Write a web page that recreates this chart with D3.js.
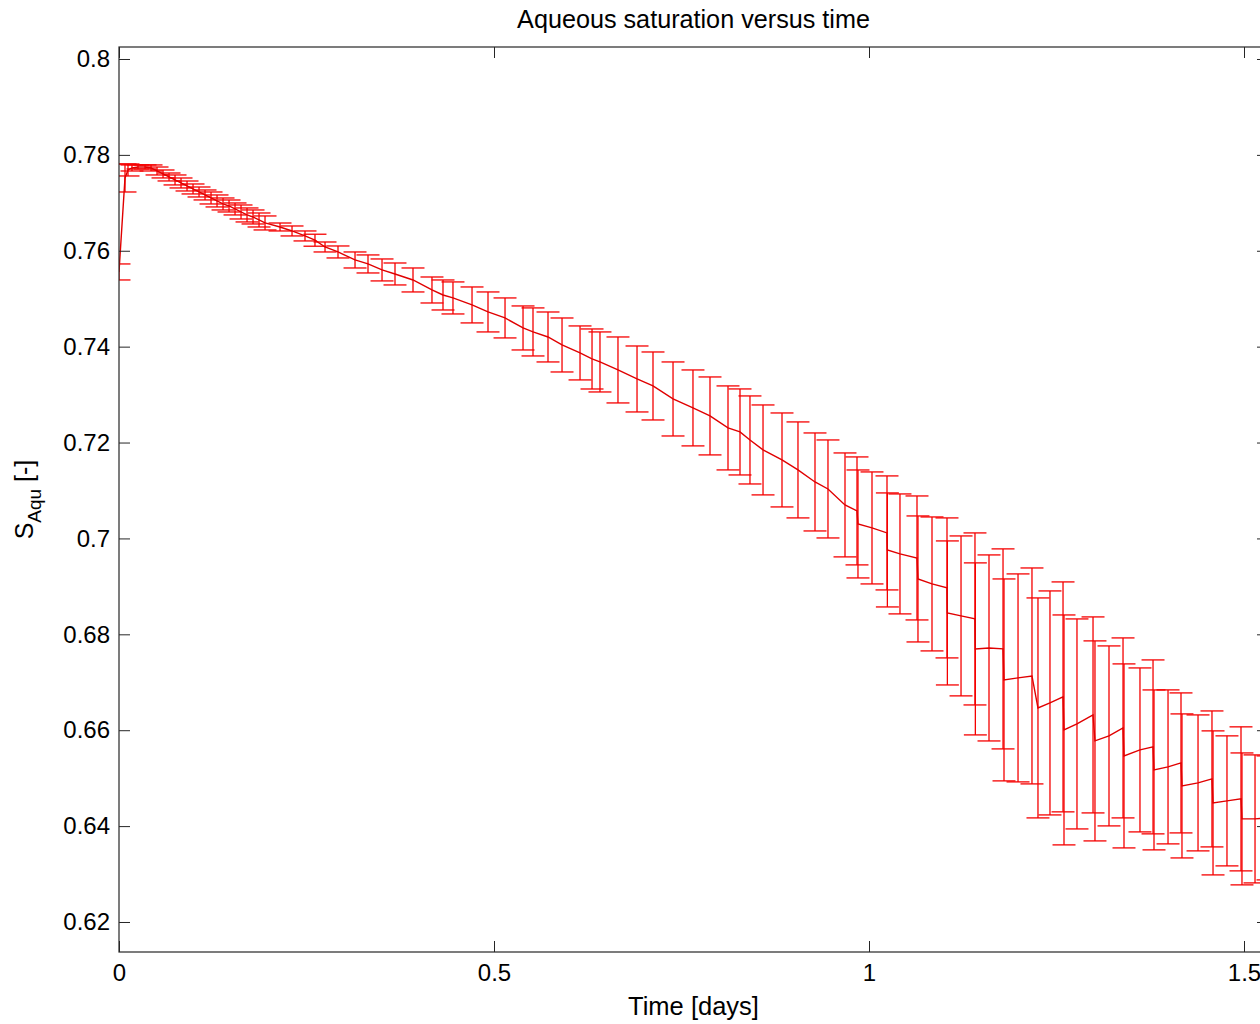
<!DOCTYPE html>
<html><head><meta charset="utf-8">
<script src="https://cdn.jsdelivr.net/npm/d3@7"></script>
<style>body{margin:0;background:#fff}</style>
</head><body>
<svg id="chart" width="1260" height="1024"></svg>
<script>
// ---- data ----
const timeDays = [
  0.0000, 0.0080, 0.0120, 0.0173, 0.0253, 0.0347, 0.0427, 0.0507, 0.0587, 0.0667, 0.0747, 0.0827, 0.0907,
  0.0987, 0.1067, 0.1147, 0.1227, 0.1307, 0.1387, 0.1467, 0.1547, 0.1627, 0.1707, 0.1787, 0.1867, 0.1947,
  0.2147, 0.2307, 0.2480, 0.2613, 0.2747, 0.2920, 0.3147, 0.3320, 0.3507, 0.3680, 0.3920, 0.4173, 0.4320,
  0.4453, 0.4707, 0.4920, 0.5147, 0.5387, 0.5520, 0.5720, 0.5907, 0.6147, 0.6307, 0.6413, 0.6653, 0.6907,
  0.7120, 0.7387, 0.7653, 0.7880, 0.8120, 0.8280, 0.8413, 0.8587, 0.8840, 0.9053, 0.9280, 0.9453, 0.9680,
  0.9840, 0.9853, 1.0040, 1.0240, 1.0245, 1.0413, 1.0640, 1.0653, 1.0840, 1.1040, 1.1045, 1.1227, 1.1413,
  1.1418, 1.1600, 1.1787, 1.1800, 1.1987, 1.2173, 1.2253, 1.2413, 1.2587, 1.2600, 1.2773, 1.2987, 1.3013,
  1.3200, 1.3387, 1.3400, 1.3613, 1.3787, 1.3800, 1.3987, 1.4160, 1.4173, 1.4387, 1.4573, 1.4587, 1.4773,
  1.4960, 1.4973, 1.5147, 1.5320
];
const saturation = [
  0.75558, 0.77518, 0.77685, 0.77727, 0.77748, 0.77748, 0.77727, 0.77664, 0.77602, 0.77539, 0.77477, 0.77414, 0.77351,
  0.77289, 0.77226, 0.77164, 0.77101, 0.77039, 0.76976, 0.76934, 0.76872, 0.76809, 0.76747, 0.76705, 0.76642, 0.76580,
  0.76496, 0.76413, 0.76309, 0.76220, 0.76079, 0.75975, 0.75808, 0.75725, 0.75600, 0.75516, 0.75391, 0.75182, 0.75078,
  0.75016, 0.74870, 0.74724, 0.74599, 0.74390, 0.74307, 0.74202, 0.74035, 0.73869, 0.73743, 0.73681, 0.73514, 0.73326,
  0.73180, 0.72909, 0.72722, 0.72555, 0.72305, 0.72221, 0.72054, 0.71846, 0.71637, 0.71429, 0.71178, 0.71032, 0.70699,
  0.70574, 0.70302, 0.70219, 0.70115, 0.69760, 0.69677, 0.69593, 0.69155, 0.69051, 0.68968, 0.68446, 0.68384, 0.68321,
  0.67696, 0.67716, 0.67696, 0.67049, 0.67091, 0.67132, 0.66465, 0.66569, 0.66695, 0.66006, 0.66131, 0.66319, 0.65777,
  0.65881, 0.66048, 0.65464, 0.65589, 0.65652, 0.65172, 0.65235, 0.65318, 0.64838, 0.64901, 0.64984, 0.64484, 0.64526,
  0.64568, 0.64150, 0.64150, 0.64171
];
const errorHalf = [
  0.00167, 0.00292, 0.00125, 0.00063, 0.00042, 0.00042, 0.00063, 0.00083, 0.00083, 0.00083, 0.00104, 0.00104, 0.00104,
  0.00104, 0.00104, 0.00104, 0.00125, 0.00125, 0.00125, 0.00125, 0.00125, 0.00146, 0.00146, 0.00146, 0.00146, 0.00146,
  0.00083, 0.00104, 0.00104, 0.00125, 0.00104, 0.00125, 0.00167, 0.00188, 0.00229, 0.00229, 0.00250, 0.00271, 0.00313,
  0.00334, 0.00375, 0.00417, 0.00417, 0.00459, 0.00501, 0.00521, 0.00563, 0.00563, 0.00626, 0.00626, 0.00688, 0.00688,
  0.00709, 0.00772, 0.00792, 0.00813, 0.00876, 0.00897, 0.00918, 0.00938, 0.00980, 0.01001, 0.01022, 0.01022, 0.01084,
  0.01126, 0.01126, 0.01168, 0.01189, 0.01189, 0.01251, 0.01293, 0.01314, 0.01397, 0.01460, 0.01502, 0.01668, 0.01794,
  0.01794, 0.01940, 0.02086, 0.02106, 0.02169, 0.02252, 0.02294, 0.02336, 0.02398, 0.02398, 0.02190, 0.02044, 0.02086,
  0.01877, 0.01877, 0.01919, 0.01710, 0.01814, 0.01668, 0.01606, 0.01460, 0.01502, 0.01418, 0.01418, 0.01502, 0.01356,
  0.01502, 0.01376, 0.01335, 0.01293
];
const xLimits = [0, 1.532];
const yLimits = [0.61374, 0.8025];
const xTicks = [0, 0.5, 1, 1.5];
const xTickLabels = ["0", "0.5", "1", "1.5"];
const yTicks = [0.62, 0.64, 0.66, 0.68, 0.70, 0.72, 0.74, 0.76, 0.78, 0.80];
const yTickLabels = ["0.62", "0.64", "0.66", "0.68", "0.7", "0.72", "0.74", "0.76", "0.78", "0.8"];
const titleText = "Aqueous saturation versus time";
const xLabelText = "Time [days]";
const yLabelMain = "S", yLabelSub = "Aqu", yLabelUnit = " [-]";

// ---- drawing ----
const FONT = "'Liberation Sans', Arial, Helvetica, sans-serif";
const L = 119, R = 1268, T = 47, B = 952;
const AX = "#262626";
const RED = "#f50000";
const svg = d3.select("#chart").style("font-family", FONT);

const x = d3.scaleLinear().domain(xLimits).range([L, R]);
const y = d3.scaleLinear().domain(yLimits).range([B, T]);

const n = Math.min(timeDays.length, saturation.length, errorHalf.length);
const pts = d3.range(n).map(i => ({t: timeDays[i], m: saturation[i], e: errorHalf[i]}));

svg.append("defs").append("clipPath").attr("id", "clip")
  .append("rect").attr("x", L).attr("y", T).attr("width", R - L).attr("height", B - T);

const plot = svg.append("g").attr("clip-path", "url(#clip)");
const capHalf = (xLimits[1] - xLimits[0]) / 100; // MATLAB-style tee width

const eb = plot.append("g").attr("stroke", RED).attr("stroke-width", 1.3).attr("fill", "none");
pts.forEach(p => {
  const xp = x(p.t), y1 = y(p.m - p.e), y2 = y(p.m + p.e);
  const cl = x(p.t - capHalf), cr = x(p.t + capHalf);
  eb.append("line").attr("x1", xp).attr("x2", xp).attr("y1", y1).attr("y2", y2);
  eb.append("line").attr("x1", cl).attr("x2", cr).attr("y1", y1).attr("y2", y1);
  eb.append("line").attr("x1", cl).attr("x2", cr).attr("y1", y2).attr("y2", y2);
});

plot.append("path").datum(pts)
  .attr("fill", "none").attr("stroke", "#e00000").attr("stroke-width", 1.4)
  .attr("d", d3.line().x(d => x(d.t)).y(d => y(d.m)));

// axes
const tick = 11;
const gx = svg.append("g").attr("transform", `translate(0,${B})`)
  .call(d3.axisBottom(x).tickValues(xTicks).tickFormat((d, i) => xTickLabels[i])
    .tickSizeInner(-tick).tickSizeOuter(0).tickPadding(12));
const gxt = svg.append("g").attr("transform", `translate(0,${T})`)
  .call(d3.axisTop(x).tickValues(xTicks).tickFormat("").tickSizeInner(-tick).tickSizeOuter(0));
const gy = svg.append("g").attr("transform", `translate(${L},0)`)
  .call(d3.axisLeft(y).tickValues(yTicks).tickFormat((d, i) => yTickLabels[i])
    .tickSizeInner(-tick).tickSizeOuter(0).tickPadding(9));
const gyr = svg.append("g").attr("transform", `translate(${R},0)`)
  .call(d3.axisRight(y).tickValues(yTicks).tickFormat("").tickSizeInner(-tick).tickSizeOuter(0));
[gx, gxt, gy, gyr].forEach(g => {
  g.select(".domain").remove();
  g.selectAll("line").attr("stroke", AX).attr("stroke-width", 1);
  g.selectAll("text").attr("fill", "#000").style("font-size", "24px").style("font-family", FONT);
});

svg.append("rect").attr("x", L).attr("y", T).attr("width", R - L).attr("height", B - T)
  .attr("fill", "none").attr("stroke", AX).attr("stroke-width", 1.2);

// title and labels
svg.append("text").attr("x", (L + R) / 2).attr("y", 28).attr("text-anchor", "middle")
  .style("font-size", "25.2px").attr("fill", "#000").text(titleText);
svg.append("text").attr("x", (L + R) / 2).attr("y", 1015).attr("text-anchor", "middle")
  .style("font-size", "25.5px").attr("fill", "#000").text(xLabelText);

const yl = svg.append("text").attr("transform", `translate(33,${(T + B) / 2}) rotate(-90)`)
  .attr("text-anchor", "middle").style("font-size", "25px").attr("fill", "#000");
yl.append("tspan").text(yLabelMain);
yl.append("tspan").attr("dy", 8).style("font-size", "19px").text(yLabelSub);
yl.append("tspan").attr("dy", -8).text(yLabelUnit);
</script>
</body></html>
